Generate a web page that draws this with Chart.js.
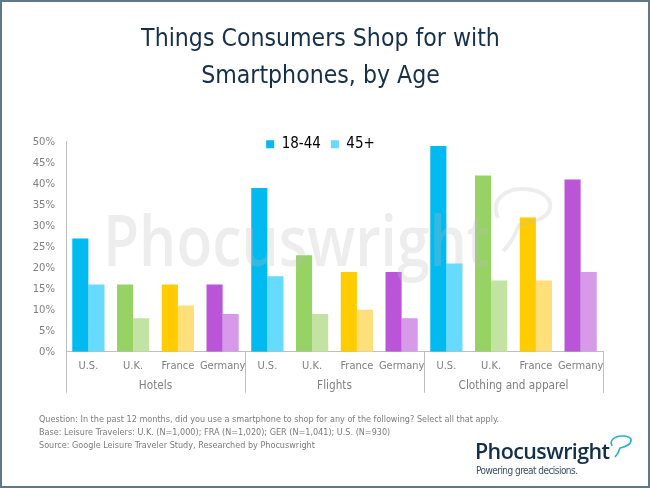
<!DOCTYPE html>
<html>
<head>
<meta charset="utf-8">
<script src="https://cdn.jsdelivr.net/npm/chart.js@4"></script>
<style>
html,body{margin:0;padding:0;background:#fff}
#frame{position:relative;width:650px;height:488px;overflow:hidden;font-family:"DejaVu Sans Condensed","DejaVu Sans",sans-serif}
#frame canvas{position:absolute;left:0;top:0}
#edge{position:absolute;left:0;top:0;width:650px;height:488px;box-sizing:border-box;border:2px solid #5f7a87;pointer-events:none}
.abs{position:absolute;white-space:nowrap}
#notes{left:39px;top:413px;font-size:9px;line-height:13.2px;color:#7b7b7b}
#logo{left:475px;top:437px;font-family:"Open Sans",sans-serif;font-weight:600;font-size:21.5px;letter-spacing:-.6px;color:#12304a;line-height:28px}
#tag{left:476px;top:465px;font-size:10px;letter-spacing:-.55px;color:#3a5166}
</style>
</head>
<body>
<div id="frame">
<canvas id="c" width="650" height="488"></canvas>
<div class="abs" id="notes">Question: In the past 12 months, did you use a smartphone to shop for any of the following? Select all that apply.<br>Base: Leisure Travelers: U.K. (N=1,000); FRA (N=1,020); GER (N=1,041); U.S. (N=930)<br>Source: Google Leisure Traveler Study, Researched by Phocuswright</div>
<div class="abs" id="logo">Phocuswright</div>
<div class="abs" id="tag">Powering great decisions.</div>
<svg class="abs" style="left:0;top:0" width="650" height="488">
<path d="M612 446 C609 440 615 436 622 436 C628 436 632 438 631 441 C630 446 624 447 620 448 C619 452 617 455 615 457" fill="none" stroke="#22b3cf" stroke-width="1.6"/>
<path d="M498 218 C490 200 505 189 522 189 C540 189 552 197 550 208 C548 220 530 222 519 225 C515 235 510 245 503 251" fill="none" stroke="rgba(190,190,190,.27)" stroke-width="4"/>
</svg>
<div id="edge"></div>
</div>
<script>
const categories = ["U.S.","U.K.","France","Germany","U.S.","U.K.","France","Germany","U.S.","U.K.","France","Germany"];
const groupNames = ["Hotels","Flights","Clothing and apparel"];
const groupSize = 4;
const seriesNames = ["18-44","45+"];
const younger = [27,16,16,16,39,23,19,19,49,42,32,41];
const older = [16,8,11,9,18,9,10,8,21,17,17,19];
const strongColors = ["#00baf0","#96d364","#ffcc00","#bb55d7"];
const paleColors = ["#66daff","#c3e3a3","#ffdf79","#d79ae9"];
const titleLines = ["Things Consumers Shop for with","Smartphones, by Age"];
const watermark = "Phocuswright";
const FONT = '"DejaVu Sans Condensed","DejaVu Sans",sans-serif';
const colorsOf = p => categories.map((_,i)=>p[i%groupSize]);

const groupPlugin = {
  id:'groups',
  beforeLayout(chart){
    const l = chart.legend;
    if(!l._fixed){
      const fit = l.fit;
      l.fit = function(){ fit.call(this); this.height = 17; };
      l._fixed = true;
    }
  },
  afterLayout(chart){
    const l = chart.legend, t = chart.titleBlock;
    t.left += 8;
    l.left += 8;
    l.top += 2;
    l.bottom = l.top + 40;
  },
  afterDatasetsDraw(chart){
    const {ctx} = chart;
    ctx.save();
    ctx.font = '600 71px "Open Sans", '+FONT;
    const w = ctx.measureText(watermark).width;
    ctx.translate(103,266);
    ctx.scale(387/w,1);
    ctx.fillStyle = 'rgba(190,190,190,.27)';
    ctx.textAlign='left'; ctx.textBaseline='alphabetic';
    ctx.fillText(watermark,0,0);
    ctx.restore();
  },
  afterDraw(chart){
    const {ctx,chartArea:a,scales:{x}} = chart;
    const step = x.getPixelForValue(1)-x.getPixelForValue(0);
    ctx.save();
    ctx.strokeStyle='#bfbfbf'; ctx.lineWidth=1;
    for(let g=0;g<=groupNames.length;g++){
      const px = Math.round(x.getPixelForValue(g*groupSize)-step/2)+.5;
      ctx.beginPath(); ctx.moveTo(px,a.bottom); ctx.lineTo(px,a.bottom+41); ctx.stroke();
    }
    ctx.fillStyle='#7f7f7f'; ctx.font='11.7px '+FONT; ctx.textAlign='center'; ctx.textBaseline='middle';
    groupNames.forEach((n,g)=>{
      const c = x.getPixelForValue(g*groupSize+(groupSize-1)/2);
      ctx.fillText(n,c,a.bottom+34);
    });
    ctx.restore();
  }
};

new Chart(document.getElementById('c'),{
  type:'bar',
  plugins:[groupPlugin],
  data:{labels:categories,datasets:[
    {label:seriesNames[0],data:younger,backgroundColor:colorsOf(strongColors),categoryPercentage:.72,barPercentage:1,borderWidth:0},
    {label:seriesNames[1],data:older,backgroundColor:colorsOf(paleColors),categoryPercentage:.72,barPercentage:1,borderWidth:0}
  ]},
  options:{
    responsive:false,animation:false,
    layout:{padding:{left:30,right:47,top:0,bottom:107}},
    plugins:{
      tooltip:{enabled:false},
      title:{display:true,text:titleLines,color:'#17304a',font:{family:FONT,size:24.6,weight:'400',lineHeight:1.52},padding:{top:21,bottom:29},align:'center'},
      legend:{position:'top',align:'center',labels:{
        boxWidth:8,boxHeight:8,padding:10,color:'#17304a',font:{family:FONT,size:15},
        generateLabels:()=>[
          {text:seriesNames[0],fillStyle:strongColors[0],strokeStyle:strongColors[0],lineWidth:0,datasetIndex:0},
          {text:seriesNames[1],fillStyle:paleColors[0],strokeStyle:paleColors[0],lineWidth:0,datasetIndex:1}
        ]
      }}
    },
    scales:{
      x:{grid:{display:false,drawTicks:false},border:{color:'#bfbfbf',width:1},
        ticks:{color:'#7f7f7f',font:{family:FONT,size:11},padding:8,maxRotation:0,autoSkip:false}},
      y:{min:0,max:50,grid:{display:false,drawTicks:false},border:{color:'#bfbfbf',width:1},
        afterFit(s){s.width=36;},
        ticks:{stepSize:5,color:'#7f7f7f',font:{family:FONT,size:11.2},padding:11,callback:v=>v+'%'}}
    }
  }
});
</script>
</body>
</html>
